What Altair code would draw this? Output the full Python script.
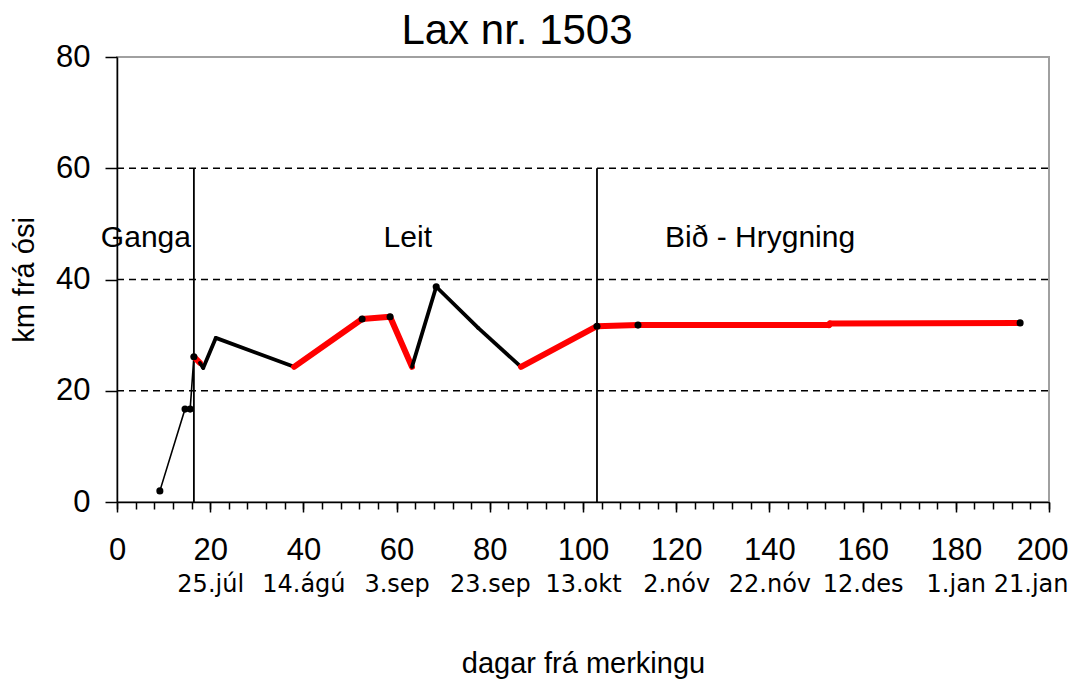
import json
import altair as alt
import pandas as pd

# ---- data ----
days = [9.2, 14.6, 15.7, 16.5, 17.8, 18.5, 21.2, 38.0, 52.6, 58.6, 63.3, 68.5,
        77.5, 86.7, 103.0, 111.8, 152.8, 153.0, 193.8]
km = [2.0, 16.7, 16.7, 26.1, 25.0, 24.1, 29.5, 24.3, 32.9, 33.3, 24.3, 38.7,
      31.3, 24.3, 31.6, 31.8, 31.8, 32.1, 32.2]
seg_style = ["thin", "thin", "thin", "red", "black", "black", "black", "red",
             "red", "red", "black", "black", "black", "red", "red", "red",
             "red", "red"]
dot = [1, 1, 1, 1, 0, 0, 0, 0, 1, 1, 0, 1, 0, 0, 1, 1, 0, 0, 1]

phase_days = [16.5, 103.0]
phase_top = [60, 60]
phase_names = ["Ganga", "Leit", "Bið - Hrygning"]
phase_name_x = [6.2, 62.4, 138.0]
phase_name_y = [45.8, 45.8, 45.8]

grid_km = [20, 40, 60]
y_ticks = [0, 20, 40, 60, 80]
x_minor = list(range(0, 201, 4))
x_major = list(range(0, 201, 20))
date_labels = ["", "25.júl", "14.ágú", "3.sep", "23.sep", "13.okt",
               "2.nóv", "22.nóv", "12.des", "1.jan", "21.jan"]

# ---- tables ----
seg_df = pd.DataFrame({
    "d": days[:-1], "d2": days[1:], "km": km[:-1], "km2": km[1:],
    "style": seg_style,
})
dot_df = pd.DataFrame({"d": days, "km": km, "dot": dot})
dot_df = dot_df[dot_df["dot"] == 1]
phase_df = pd.DataFrame({"d": phase_days, "top": phase_top})
name_df = pd.DataFrame({"d": phase_name_x, "km": phase_name_y, "name": phase_names})
grid_df = pd.DataFrame({"km": grid_km})

FONT = "Liberation Sans"
xs = alt.Scale(domain=[0, 200], nice=False, zero=False)
ys = alt.Scale(domain=[0, 80], nice=False)

last_right = {"condition": {"test": "datum.value >= 200", "value": "right"}, "value": "center"}
last_shift = {"condition": {"test": "datum.value >= 200", "value": 19}, "value": 0}

grid = alt.Chart(grid_df).mark_rule(color="black", strokeWidth=1.4, strokeDash=[7, 5]).encode(
    y=alt.Y("km:Q", scale=ys, axis=alt.Axis(
        orient="left", values=y_ticks, tickSize=12, tickWidth=1.5, tickColor="black",
        domain=True, domainColor="black", domainWidth=1.5, grid=False,
        labelFont=FONT, labelFontSize=31, labelColor="black", labelPadding=15,
        title="km frá ósi", titleFont=FONT, titleFontSize=29,
        titleFontWeight="normal", titleColor="black", titlePadding=16)),
    x=alt.value(0), x2=alt.value(932),
)

phase = alt.Chart(phase_df).mark_rule(color="black", strokeWidth=1.8).encode(
    x=alt.X("d:Q", scale=xs, axis=None),
    y=alt.Y("top:Q", scale=ys, axis=None),
    y2=alt.value(445),
)

seg = alt.Chart(seg_df).mark_rule(strokeCap="round").encode(
    x=alt.X("d:Q", scale=xs, axis=alt.Axis(
        orient="bottom", values=x_minor, labels=False, tickSize=7, tickWidth=1.5,
        tickColor="black", domain=True, domainColor="black", domainWidth=1.5,
        grid=False, title="")),
    x2="d2:Q",
    y=alt.Y("km:Q", scale=ys, axis=None),
    y2="km2:Q",
    color=alt.Color("style:N", scale=alt.Scale(domain=["thin", "black", "red"],
                                               range=["black", "black", "#ff0000"]),
                    legend=None),
    strokeWidth=alt.StrokeWidth("style:N", scale=alt.Scale(domain=["thin", "black", "red"],
                                                           range=[1.6, 6, 6]),
                                legend=None),
)

dots = alt.Chart(dot_df).mark_circle(size=50, color="black", opacity=1).encode(
    x=alt.X("d:Q", scale=xs, axis=alt.Axis(
        orient="bottom", values=x_major, tickSize=10, tickWidth=1.5, tickColor="black",
        domain=False, grid=False, labelFont=FONT, labelFontSize=31,
        labelColor="black", labelBaseline="alphabetic", labelPadding=47,
        labelAlign=last_right, labelOffset=last_shift,
        labelOverlap=False, labelBound=False, labelFlush=False, title="")),
    y=alt.Y("km:Q", scale=ys, axis=None),
)

date_expr = json.dumps(date_labels, ensure_ascii=False) + "[round(datum.value / 20)]"

names = alt.Chart(name_df).mark_text(font=FONT, fontSize=30, baseline="alphabetic",
                                     align="center", color="black").encode(
    x=alt.X("d:Q", scale=xs, axis=alt.Axis(
        orient="bottom", values=x_major, ticks=False, domain=False, grid=False,
        labelExpr=date_expr, labelFont="DejaVu Sans", labelFontSize=24,
        labelColor="black", labelBaseline="alphabetic", labelPadding=89,
        labelAlign=last_right, labelOffset=last_shift,
        labelOverlap=False, labelBound=False, labelFlush=False,
        title="dagar frá merkingu", titleFont=FONT, titleFontSize=29,
        titleFontWeight="normal", titleColor="black", titleY=170,
        titleBaseline="alphabetic")),
    y=alt.Y("km:Q", scale=ys, axis=None),
    text="name:N",
)

chart = alt.layer(grid, phase, seg, dots, names).resolve_axis(
    x="independent", y="independent"
).properties(
    width=932, height=445,
    autosize=alt.AutoSizeParams(type="none"),
    padding={"left": 109, "top": 49, "right": 20, "bottom": 178},
    title=alt.TitleParams("Lax nr. 1503", font=FONT, fontSize=42, fontWeight="normal",
                          anchor="middle", dx=-66, frame="group", offset=-12,
                          color="black"),
    background="white",
).configure_view(stroke="#a0a0a0", strokeWidth=2)

chart.save("out.html", embed_options={"renderer": "svg", "actions": False})
